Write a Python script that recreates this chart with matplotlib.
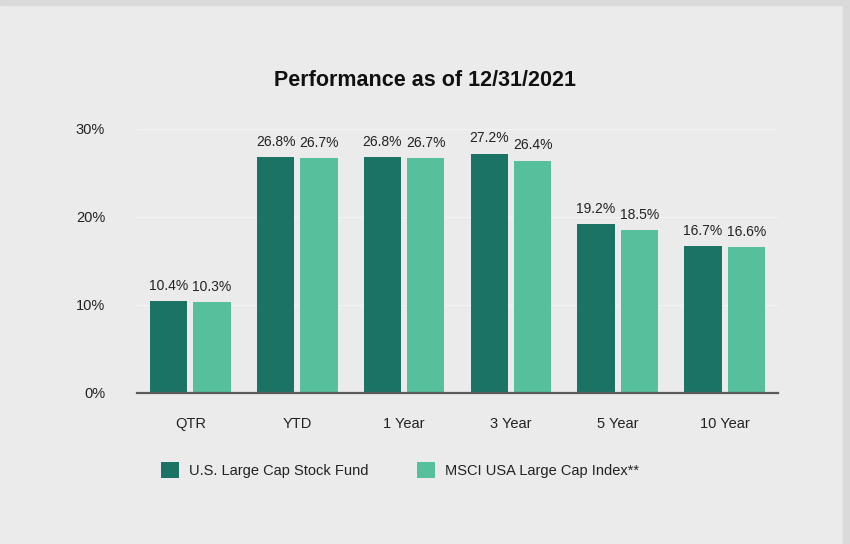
import matplotlib
matplotlib.use("Agg")
import matplotlib.pyplot as plt
from matplotlib.patches import Rectangle
import numpy as np

categories = ["QTR", "YTD", "1 Year", "3 Year", "5 Year", "10 Year"]
fund = [10.4, 26.8, 26.8, 27.2, 19.2, 16.7]
index = [10.3, 26.7, 26.7, 26.4, 18.5, 16.6]
series_names = ["U.S. Large Cap Stock Fund", "MSCI USA Large Cap Index**"]
yticks = [0, 10, 20, 30]

plt.rcParams['font.family'] = ['Liberation Sans', 'DejaVu Sans']
fs = 10.5
vfs = 10

bg = "#ebebeb"
dark = "#1b7366"
light = "#56bf9b"

fig = plt.figure(figsize=(8.5, 5.44), dpi=100, facecolor=bg)
fig.patches.append(Rectangle((0, 1 - 5/544), 1, 5/544, transform=fig.transFigure, color="#dadada", zorder=0))
fig.patches.append(Rectangle((843/850, 0), 7/850, 1, transform=fig.transFigure, color="#dadada", zorder=0))

ax = fig.add_axes([137/850, 1 - 393/544, 641/850, (393 - 129)/544])
ax.set_facecolor(bg)

x = np.arange(len(categories))
w = 0.35
off = 0.203
b1 = ax.bar(x - off, fund, w, color=dark, label=series_names[0], zorder=3)
b2 = ax.bar(x + off, index, w, color=light, label=series_names[1], zorder=3)

for bars, vals in ((b1, fund), (b2, index)):
    for r, v in zip(bars, vals):
        ax.annotate(f"{v:.1f}%", (r.get_x() + r.get_width() / 2, v), xytext=(0, 6),
                    textcoords="offset points", ha="center", va="bottom",
                    fontsize=vfs, color="#222222")

ax.set_xlim(-0.5, len(categories) - 0.5)
ax.set_ylim(0, 30)
ax.set_yticks(yticks)
ax.set_yticklabels([f"{t}%" for t in yticks], fontsize=fs, color="#222222")
ax.set_xticks(x)
ax.set_xticklabels(categories, fontsize=fs, color="#222222")
ax.tick_params(axis="both", length=0)
ax.tick_params(axis="y", pad=23)
ax.tick_params(axis="x", pad=17)
ax.grid(axis="y", color="#f2f2f2", linewidth=1, zorder=0)
for s in ["top", "right", "left"]:
    ax.spines[s].set_visible(False)
ax.spines["bottom"].set_color("#5a5a5a")
ax.spines["bottom"].set_linewidth(1.6)
ax.spines["bottom"].set_zorder(4)

fig.text(425/850, 1 - 80/544, "Performance as of 12/31/2021", ha="center", va="center",
         fontsize=15.5, fontweight="bold", color="#111111")

leg = fig.legend(handles=[b1, b2], labels=series_names, loc="center left",
                 bbox_to_anchor=(151/850, 1 - 470/544), ncol=2, frameon=False,
                 borderpad=0.2, fontsize=fs, handlelength=1.25, handleheight=1.25,
                 handletextpad=0.68, columnspacing=3.3, labelcolor="#222222")

fig.savefig("out.png", dpi=100, facecolor=bg)
